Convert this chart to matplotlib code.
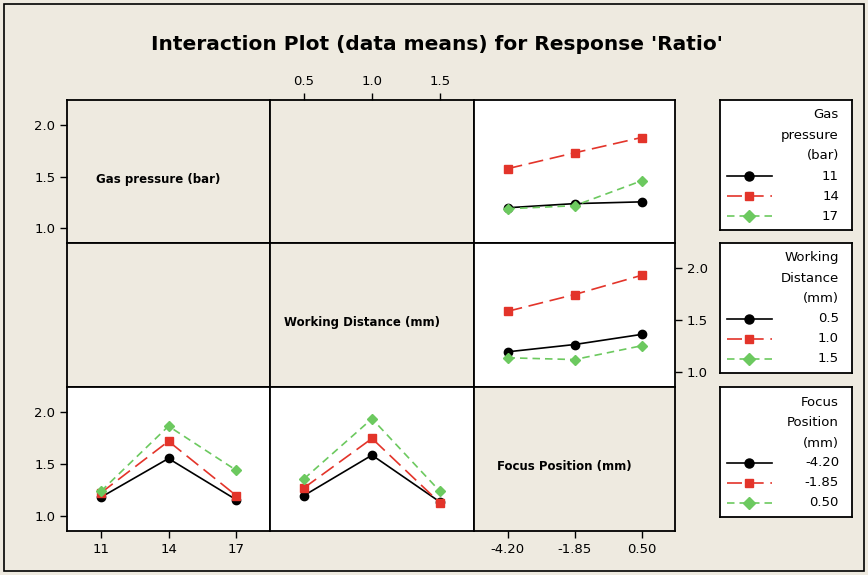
import matplotlib
matplotlib.use("Agg")
import matplotlib.pyplot as plt
from matplotlib.patches import Rectangle

# %% data (means of Ratio)
gas_levels = ['11', '14', '17']
wd_levels = ['0.5', '1.0', '1.5']
fp_levels = ['-4.20', '-1.85', '0.50']

# gas pressure lines vs focus position (top right)
gp_fp_11 = [1.20, 1.24, 1.257]
gp_fp_14 = [1.577, 1.73, 1.878]
gp_fp_17 = [1.19, 1.22, 1.46]

# working distance lines vs focus position (middle right)
wd_fp_05 = [1.197, 1.267, 1.364]
wd_fp_10 = [1.585, 1.746, 1.93]
wd_fp_15 = [1.14, 1.123, 1.255]

# focus position lines vs gas pressure (bottom left)
fp_gp_m420 = [1.183, 1.555, 1.16]
fp_gp_m185 = [1.225, 1.72, 1.20]
fp_gp_050 = [1.24, 1.865, 1.442]

# focus position lines vs working distance (bottom middle)
fp_wd_m420 = [1.20, 1.587, 1.138]
fp_wd_m185 = [1.273, 1.747, 1.129]
fp_wd_050 = [1.36, 1.936, 1.24]

yticks = [1.0, 1.5, 2.0]
factor_names = ['Gas pressure (bar)', 'Working Distance (mm)', 'Focus Position (mm)']
legend_titles = [['Gas', 'pressure', '(bar)'],
                 ['Working', 'Distance', '(mm)'],
                 ['Focus', 'Position', '(mm)']]

# %% styles
bg = '#eeeae0'
styles = [dict(color='black', ls='-', marker='o', ms=6, lw=1.2),
          dict(color='#e3342a', ls=(0, (9, 4)), marker='s', ms=5.5, lw=1.2),
          dict(color='#6cc95f', ls=(0, (4.5, 3)), marker='D', ms=5.5, lw=1.2)]

W, H = 868, 575
fig = plt.figure(figsize=(W / 100, H / 100), dpi=100, facecolor=bg)
fig.patches.append(Rectangle((4 / W, 4 / H), 860 / W, 567 / H, transform=fig.transFigure,
                             fill=False, ec='black', lw=1.2))

fig.text(437 / W, 1 - 45 / H, "Interaction Plot (data means) for Response 'Ratio'",
         ha='center', va='center', fontsize=14.5, fontweight='bold')

cols = [(67, 270), (270, 474), (474, 675)]
rows = [(100, 243), (243, 387), (387, 531)]


def px_axes(c, r):
    x0, x1 = cols[c]
    y0, y1 = rows[r]
    return fig.add_axes([x0 / W, 1 - y1 / H, (x1 - x0) / W, (y1 - y0) / H])


axes = {}
for r in range(3):
    for c in range(3):
        ax = px_axes(c, r)
        ax.set_xlim(-0.5, 2.5)
        ax.set_ylim(0.86, 2.24)
        ax.set_xticks([])
        ax.set_yticks([])
        for sp in ax.spines.values():
            sp.set_linewidth(1.3)
        ax.set_facecolor(bg)
        axes[(r, c)] = ax

# diagonal labels
for i, name in enumerate(factor_names):
    axes[(i, i)].text(0.45, 0.445, name, transform=axes[(i, i)].transAxes,
                      ha='center', va='center', fontsize=8.5, fontweight='bold')

x = [0, 1, 2]

ax = axes[(0, 2)]
ax.set_facecolor('white')
for vals, st in zip([gp_fp_11, gp_fp_14, gp_fp_17], styles):
    ax.plot(x, vals, **st)

ax = axes[(1, 2)]
ax.set_facecolor('white')
for vals, st in zip([wd_fp_05, wd_fp_10, wd_fp_15], styles):
    ax.plot(x, vals, **st)

ax = axes[(2, 0)]
ax.set_facecolor('white')
for vals, st in zip([fp_gp_m420, fp_gp_m185, fp_gp_050], styles):
    ax.plot(x, vals, **st)

ax = axes[(2, 1)]
ax.set_facecolor('white')
for vals, st in zip([fp_wd_m420, fp_wd_m185, fp_wd_050], styles):
    ax.plot(x, vals, **st)

# %% ticks
tick_kw = dict(direction='out', length=5, width=1, labelsize=9.5)

ax = axes[(0, 0)]
ax.set_yticks(yticks)
ax.set_yticklabels(['%.1f' % v for v in yticks])
ax.tick_params(axis='y', **tick_kw)

ax = axes[(2, 0)]
ax.set_yticks(yticks)
ax.set_yticklabels(['%.1f' % v for v in yticks])
ax.set_xticks(x)
ax.set_xticklabels(gas_levels)
ax.tick_params(**tick_kw)

ax = axes[(0, 1)]
ax.set_xticks(x)
ax.set_xticklabels(wd_levels)
ax.xaxis.tick_top()
ax.tick_params(axis='x', **tick_kw)

ax = axes[(1, 2)]
ax.set_yticks(yticks)
ax.set_yticklabels(['%.1f' % v for v in yticks])
ax.yaxis.tick_right()
ax.tick_params(axis='y', **tick_kw)

ax = axes[(2, 2)]
ax.set_xticks(x)
ax.set_xticklabels(fp_levels)
ax.tick_params(axis='x', **tick_kw)

# %% legends, drawn by hand so the labels sit right aligned
level_sets = [gas_levels, wd_levels, fp_levels]
box_tops = [100, 243, 387]
for title, levels, top in zip(legend_titles, level_sets, box_tops):
    lax = fig.add_axes([720 / W, 1 - (top + 130) / H, 132 / W, 130 / H])
    lax.set_xlim(0, 132)
    lax.set_ylim(130, 0)
    lax.set_xticks([])
    lax.set_yticks([])
    lax.set_facecolor('white')
    for sp in lax.spines.values():
        sp.set_linewidth(1.3)
    for k, t in enumerate(title):
        lax.text(119, 15 + 20.5 * k, t, ha='right', va='center', fontsize=9.5)
    for k, (lev, st) in enumerate(zip(levels, styles)):
        yy = 76 + 20 * k
        lax.plot([7, 52], [yy, yy], color=st['color'], ls=st['ls'], lw=st['lw'])
        lax.plot([29], [yy], color=st['color'], marker=st['marker'], ms=st['ms'] + 0.5, ls='none')
        lax.text(119, yy, lev, ha='right', va='center', fontsize=9.5)

fig.savefig('out.png', dpi=100, facecolor=bg)
